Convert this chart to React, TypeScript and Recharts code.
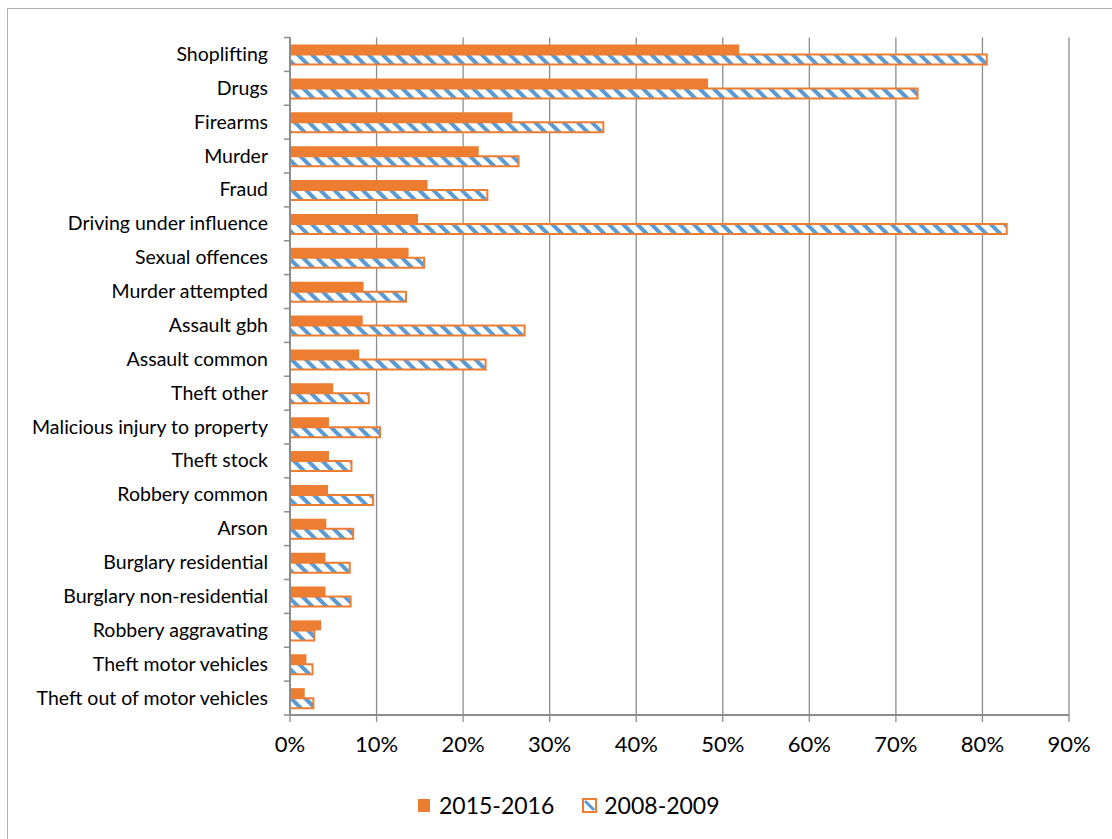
import { BarChart, Bar, XAxis, YAxis, CartesianGrid, Legend } from "recharts";

const categories = [
  "Shoplifting",
  "Drugs",
  "Firearms",
  "Murder",
  "Fraud",
  "Driving under influence",
  "Sexual offences",
  "Murder attempted",
  "Assault gbh",
  "Assault common",
  "Theft other",
  "Malicious injury to property",
  "Theft stock",
  "Robbery common",
  "Arson",
  "Burglary residential",
  "Burglary non-residential",
  "Robbery aggravating",
  "Theft motor vehicles",
  "Theft out of motor vehicles",
];

const recent = [
  0.519, 0.483, 0.257, 0.218, 0.159, 0.148, 0.137, 0.085, 0.084, 0.08,
  0.05, 0.045, 0.045, 0.044, 0.042, 0.041, 0.041, 0.036, 0.019, 0.017,
];

const earlier = [
  0.805, 0.725, 0.362, 0.264, 0.228, 0.828, 0.155, 0.134, 0.271, 0.226,
  0.091, 0.104, 0.071, 0.096, 0.073, 0.069, 0.07, 0.028, 0.026, 0.027,
];

const xTicks = [0, 0.1, 0.2, 0.3, 0.4, 0.5, 0.6, 0.7, 0.8, 0.9];

const seriesNames = ["2015-2016", "2008-2009"];

const ORANGE = "#ED7D31";
const BLUE = "#5B9BD5";
const GRID = "#8c8c8c";
const FONT = "Lato, 'Open Sans', sans-serif";

const W = 1112;
const H = 839;
const TOP = 37.5;
const BOTTOM = 715;
const HALF_BAND = (BOTTOM - TOP) / categories.length / 2;

const data = categories.map((name, i) => ({
  name,
  recent: recent[i],
  earlier: earlier[i],
}));

// category labels sit at band centres, tick marks go on the band edges like excel
function CategoryTick(props: any) {
  const { x, y, payload, index } = props;
  const axisX = x + 24;
  const last = index === categories.length - 1;
  return (
    <g>
      <text x={x + 2} y={y} dy={6.5} textAnchor="end" fontSize={19.5} fill="#000" fontFamily={FONT}>
        {payload.value}
      </text>
      <line x1={axisX - 6} x2={axisX} y1={y - HALF_BAND} y2={y - HALF_BAND} stroke={GRID} strokeWidth={1.5} />
      {last && (
        <line x1={axisX - 6} x2={axisX} y1={y + HALF_BAND} y2={y + HALF_BAND} stroke={GRID} strokeWidth={1.5} />
      )}
    </g>
  );
}

function LegendBox() {
  return (
    <div style={{ display: "flex", alignItems: "center", fontFamily: FONT, fontSize: 23, color: "#000" }}>
      <span style={{ display: "inline-block", width: 12, height: 13, background: ORANGE, marginRight: 9 }} />
      <span>{seriesNames[0]}</span>
      <svg width={15} height={15} style={{ marginLeft: 28, marginRight: 7 }}>
        <rect x={1} y={1} width={13} height={13} fill="#fff" stroke={ORANGE} strokeWidth={2} />
        <line x1={3} y1={3} x2={12} y2={12} stroke={BLUE} strokeWidth={3} />
      </svg>
      <span>{seriesNames[1]}</span>
    </div>
  );
}

export default function App() {
  return (
    <div style={{ position: "absolute", left: 0, top: 0, width: W, height: H, overflow: "hidden", background: "#fff" }}>
      <div
        style={{
          position: "absolute",
          left: 7,
          top: 8,
          width: W + 40,
          height: H + 40,
          border: "1px solid #b0b0b0",
        }}
      />
      <BarChart
        width={W}
        height={H}
        data={data}
        layout="vertical"
        margin={{ top: TOP, right: 43, bottom: 84, left: 0 }}
        barSize={10}
        barGap={0}
      >
        <defs>
          <pattern id="hatch" patternUnits="userSpaceOnUse" width={10} height={10} patternTransform="rotate(-45)">
            <rect width={10} height={10} fill="#fff" />
            <rect x={0} y={0} width={4} height={10} fill={BLUE} />
          </pattern>
        </defs>
        <CartesianGrid horizontal={false} stroke={GRID} strokeWidth={1.3} />
        <XAxis
          type="number"
          domain={[0, 0.9]}
          ticks={xTicks}
          height={40}
          tickFormatter={(v: number) => `${Math.round(v * 100)}%`}
          tick={{ fontSize: 22, fill: "#000", fontFamily: FONT }}
          axisLine={{ stroke: GRID, strokeWidth: 2 }}
          tickLine={{ stroke: GRID, strokeWidth: 1.3 }}
          tickSize={7}
          tickMargin={14}
        />
        <YAxis
          type="category"
          dataKey="name"
          width={290}
          interval={0}
          tick={<CategoryTick />}
          tickLine={false}
          tickSize={6}
          tickMargin={18}
          axisLine={{ stroke: GRID, strokeWidth: 2 }}
        />
        <Legend
          layout="horizontal"
          verticalAlign="middle"
          align="center"
          content={() => <LegendBox />}
          wrapperStyle={{ top: 791, left: 418, width: "auto", bottom: "auto" }}
        />
        <Bar dataKey="recent" name={seriesNames[0]} fill={ORANGE} isAnimationActive={false} />
        <Bar
          dataKey="earlier"
          name={seriesNames[1]}
          fill="url(#hatch)"
          stroke={ORANGE}
          strokeWidth={2}
          isAnimationActive={false}
        />
      </BarChart>
    </div>
  );
}
